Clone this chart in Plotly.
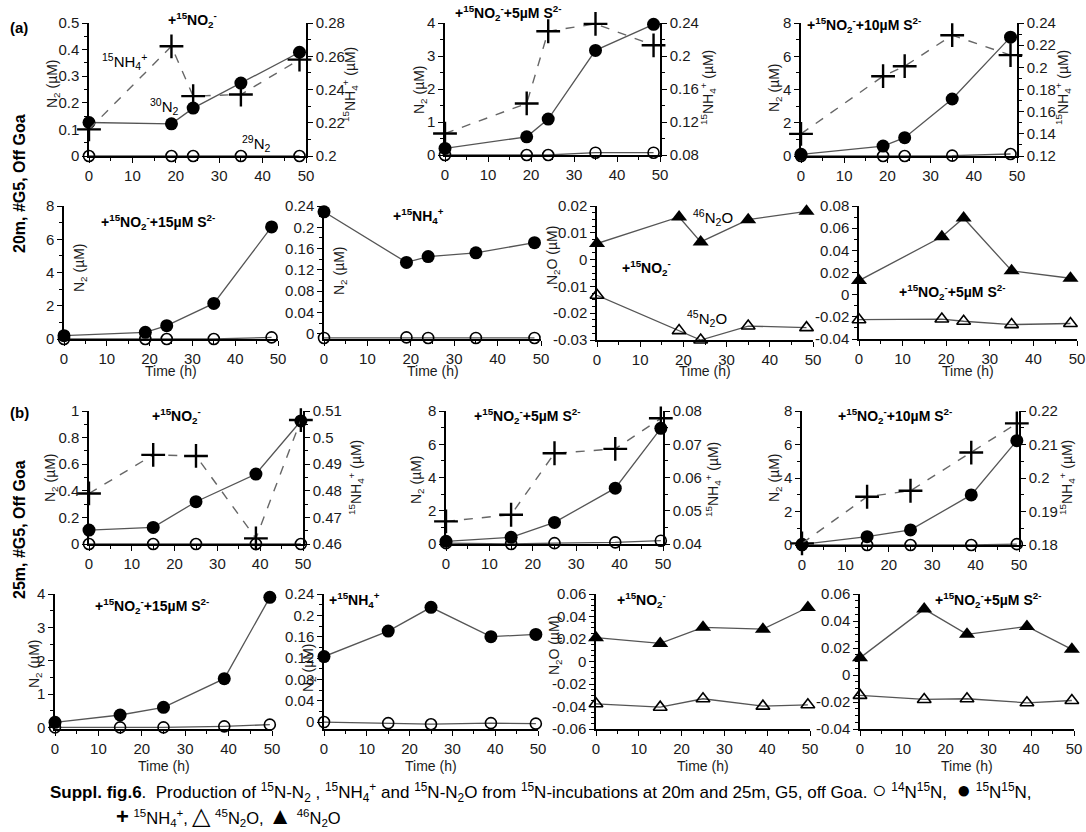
import numpy as np
import plotly.graph_objects as go

W, H = 1086, 832
FONT = "Liberation Sans, Arial, sans-serif"

# ---------------- data ----------------
t_a = [0, 19, 24, 35, 48.5]
t_b = [0, 15, 25, 39, 49.5]

# (a) 20 m
a_no2_15N15N = [0.126, 0.121, 0.18, 0.274, 0.39]
a_no2_14N15N = [0, 0, 0, 0, 0]
a_no2_NH4 = [0.216, 0.266, 0.236, 0.237, 0.258]
a_s5_15N15N = [0.2, 0.55, 1.09, 3.17, 3.96]
a_s5_14N15N = [0, 0, 0, 0.07, 0.07]
a_s5_NH4 = [0.106, 0.1425, 0.230, 0.239, 0.213]
a_s10_15N15N = [0.1, 0.6, 1.1, 3.43, 7.15]
a_s10_14N15N = [0, 0, 0, 0.02, 0.12]
a_s10_NH4 = [0.140, 0.192, 0.201, 0.229, 0.211]
a_s15_15N15N = [0.2, 0.4, 0.8, 2.14, 6.74]
a_s15_14N15N = [0, 0, 0, 0, 0.1]
a_nh4_15N15N = [0.229, 0.134, 0.145, 0.152, 0.171]
a_nh4_14N15N = [-0.008, -0.007, -0.008, -0.008, -0.008]
a_no2_46N2O = [0.006, 0.0159, 0.0066, 0.0149, 0.018]
a_no2_45N2O = [-0.0133, -0.0265, -0.030, -0.0248, -0.0254]
a_s5_46N2O = [0.0127, 0.0522, 0.0692, 0.0216, 0.0148]
a_s5_45N2O = [-0.0226, -0.022, -0.024, -0.027, -0.026]

# (b) 25 m
b_no2_15N15N = [0.105, 0.125, 0.318, 0.526, 0.925]
b_no2_14N15N = [0, 0, 0, 0, 0]
b_no2_NH4 = [0.479, 0.4935, 0.4931, 0.4621, 0.5066]
b_s5_15N15N = [0.16, 0.4, 1.3, 3.36, 6.96]
b_s5_14N15N = [0.05, 0.0, 0.05, 0.1, 0.2]
b_s5_NH4 = [0.0468, 0.0488, 0.0673, 0.0686, 0.0778]
b_s10_15N15N = [0.04, 0.5, 0.9, 2.99, 6.23]
b_s10_14N15N = [0, 0, 0, 0, 0.05]
b_s10_NH4 = [0.1805, 0.1944, 0.1962, 0.2076, 0.2163]
b_s15_15N15N = [0.15, 0.37, 0.6, 1.46, 3.90]
b_s15_14N15N = [0, 0, 0, 0.03, 0.08]
b_nh4_15N15N = [0.1228, 0.1705, 0.215, 0.16, 0.1643]
b_nh4_14N15N = [0, -0.002, -0.004, -0.002, -0.003]
b_no2_46N2O = [0.0212, 0.0161, 0.0304, 0.0287, 0.048]
b_no2_45N2O = [-0.0376, -0.0406, -0.0331, -0.0397, -0.0385]
b_s5_46N2O = [0.0127, 0.0488, 0.0301, 0.0359, 0.019]
b_s5_45N2O = [-0.0151, -0.0181, -0.0176, -0.0206, -0.0189]

x_ticks = [0, 10, 20, 30, 40, 50]

# ---------------- labels ----------------
T_NO2 = "+<sup>15</sup>NO<sub>2</sub><sup>-</sup>"
T_S5 = T_NO2 + "+5µM S<sup>2-</sup>"
T_S10 = T_NO2 + "+10µM S<sup>2-</sup>"
T_S15 = T_NO2 + "+15µM S<sup>2-</sup>"
T_NH4 = "+<sup>15</sup>NH<sub>4</sub><sup>+</sup>"
Y_N2 = "N<sub>2</sub> (µM)"
Y_N2O = "N<sub>2</sub>O (µM)"
Y_NH4 = "<sup>15</sup>NH<sub>4</sub><sup>+</sup> (µM)"

# panel specs: box = (x0, x1, ytop, ybottom) pixels
panels = [
    dict(box=(89, 306, 23, 156), t=t_a, yl=(0, 0.5), lt=[0, 0.1, 0.2, 0.3, 0.4, 0.5], lm=0.05,
         yr=(0.2, 0.28), rt=[0.2, 0.22, 0.24, 0.26, 0.28], rm=0.01,
         kind="N2", closed=a_no2_15N15N, open=a_no2_14N15N, plus=a_no2_NH4,
         title=T_NO2, tpos=(192, 20), ltit=(53, 84), rtit=(350, 85)),
    dict(box=(445, 660, 23, 155), t=t_a, yl=(0, 4), lt=[0, 1, 2, 3, 4], lm=0.5,
         yr=(0.08, 0.24), rt=[0.08, 0.12, 0.16, 0.2, 0.24], rm=0.02,
         kind="N2", closed=a_s5_15N15N, open=a_s5_14N15N, plus=a_s5_NH4,
         title=T_S5, tpos=(508, 13), ltit=(420, 90), rtit=(708, 88)),
    dict(box=(801, 1017, 23, 156), t=t_a, yl=(0, 8), lt=[0, 2, 4, 6, 8], lm=1,
         yr=(0.12, 0.24), rt=[0.12, 0.14, 0.16, 0.18, 0.2, 0.22, 0.24], rm=0.01,
         kind="N2", closed=a_s10_15N15N, open=a_s10_14N15N, plus=a_s10_NH4,
         title=T_S10, tpos=(864, 25), ltit=(775, 88), rtit=(1063, 88)),
    dict(box=(64, 278, 206, 339), t=t_a, yl=(0, 8), lt=[0, 2, 4, 6, 8], lm=1,
         kind="N2", closed=a_s15_15N15N, open=a_s15_14N15N,
         title=T_S15, tpos=(158, 222), ltit=(80, 268), xtit=True),
    dict(box=(324, 541, 206, 339), t=t_a, yl=(-0.01, 0.24), lt=[0, 0.04, 0.08, 0.12, 0.16, 0.2, 0.24], lm=0.02,
         kind="N2", closed=a_nh4_15N15N, open=a_nh4_14N15N,
         title=T_NH4, tpos=(418, 216), ltit=(340, 271), xtit=True),
    dict(box=(597, 813, 206, 340), t=t_a, yl=(-0.03, 0.02), lt=[-0.03, -0.02, -0.01, 0, 0.01, 0.02], lm=0.0025,
         kind="N2O", closed=a_no2_46N2O, open=a_no2_45N2O,
         title=T_NO2, tpos=(646, 268), ltit=(553, 256), xtit=True),
    dict(box=(859, 1077, 206, 339), t=t_a, yl=(-0.04, 0.08), lt=[-0.04, -0.02, 0, 0.02, 0.04, 0.06, 0.08], lm=0.01,
         kind="N2O", closed=a_s5_46N2O, open=a_s5_45N2O,
         title=T_S5, tpos=(952, 292), xtit=True),
    dict(box=(89, 303, 411, 544), t=t_b, yl=(0, 1), lt=[0, 0.2, 0.4, 0.6, 0.8, 1], lm=0.1,
         yr=(0.46, 0.51), rt=[0.46, 0.47, 0.48, 0.49, 0.5, 0.51], rm=0.005,
         kind="N2", closed=b_no2_15N15N, open=b_no2_14N15N, plus=b_no2_NH4,
         title=T_NO2, tpos=(176, 416), ltit=(51, 478), rtit=(356, 478)),
    dict(box=(446, 663, 411, 544), t=t_b, yl=(0, 8), lt=[0, 2, 4, 6, 8], lm=1,
         yr=(0.04, 0.08), rt=[0.04, 0.05, 0.06, 0.07, 0.08], rm=0.005,
         kind="N2", closed=b_s5_15N15N, open=b_s5_14N15N, plus=b_s5_NH4,
         title=T_S5, tpos=(527, 416), ltit=(417, 480), rtit=(713, 480)),
    dict(box=(802, 1019, 411, 545), t=t_b, yl=(0, 8), lt=[0, 2, 4, 6, 8], lm=1,
         yr=(0.18, 0.22), rt=[0.18, 0.19, 0.2, 0.21, 0.22], rm=0.005,
         kind="N2", closed=b_s10_15N15N, open=b_s10_14N15N, plus=b_s10_NH4,
         title=T_S10, tpos=(895, 416), ltit=(775, 478), rtit=(1067, 478)),
    dict(box=(55, 272, 594, 729), t=t_b, yl=(-0.05, 4), lt=[0, 1, 2, 3, 4], lm=0.5,
         kind="N2", closed=b_s15_15N15N, open=b_s15_14N15N,
         title=T_S15, tpos=(152, 606), ltit=(35, 664), xtit=True),
    dict(box=(324, 538, 594, 729), t=t_b, yl=(-0.013, 0.24), lt=[0, 0.04, 0.08, 0.12, 0.16, 0.2, 0.24], lm=0.02,
         kind="N2", closed=b_nh4_15N15N, open=b_nh4_14N15N,
         title=T_NH4, tpos=(354, 600), ltit=(309, 668), xtit=True),
    dict(box=(596, 810, 594, 729), t=t_b, yl=(-0.06, 0.06), lt=[-0.06, -0.04, -0.02, 0, 0.02, 0.04, 0.06], lm=0.005,
         kind="N2O", closed=b_no2_46N2O, open=b_no2_45N2O,
         title=T_NO2, tpos=(641, 600), ltit=(555, 646), xtit=True),
    dict(box=(860, 1074, 594, 729), t=t_b, yl=(-0.04, 0.06), lt=[-0.04, -0.02, 0, 0.02, 0.04, 0.06], lm=0.005,
         kind="N2O", closed=b_s5_46N2O, open=b_s5_45N2O,
         title=T_S5, tpos=(988, 600), xtit=True),
]


def fmt(v):
    return f"{v:g}"


def minor_vals(lo, hi, step):
    start = np.ceil(lo / step - 1e-9) * step
    vals = []
    v = start
    while v <= hi + 1e-12:
        vals.append(round(v, 6))
        v += step
    return vals


def ann(text, x, y, size=14, angle=0, xanchor="center", color="#1a1a1a"):
    return dict(x=x / W, y=1 - y / H, xref="paper", yref="paper", text=text, showarrow=False,
                xanchor=xanchor, yanchor="middle", textangle=angle,
                font=dict(family=FONT, size=size, color=color))


fig = go.Figure()
layout = dict(
    width=W, height=H, autosize=False,
    margin=dict(l=0, r=0, t=0, b=0, pad=0, autoexpand=False),
    paper_bgcolor="white", plot_bgcolor="rgba(0,0,0,0)", showlegend=False,
    font=dict(family=FONT, size=15, color="#1a1a1a"),
)
annotations = []

AX = dict(showgrid=False, zeroline=False, showline=True, linecolor="black", linewidth=1.5,
          ticks="outside", ticklen=5, tickwidth=1.2, tickcolor="black", automargin=False,
          tickfont=dict(family=FONT, size=15, color="#1a1a1a"))

LINE_C = "#555555"
nright = len(panels)

for i, p in enumerate(panels, start=1):
    x0, x1, yt, yb = p["box"]
    xd = [x0 / W, x1 / W]
    yd = [1 - yb / H, 1 - yt / H]
    xn, yn = f"xaxis{i}", f"yaxis{i}"
    xr, yr_ = f"x{i}", f"y{i}"
    layout[xn] = dict(AX, domain=xd, range=[0, 50], anchor=yr_,
                      tickmode="array", tickvals=x_ticks, ticktext=[fmt(v) for v in x_ticks],
                      minor=dict(tickmode="array", tickvals=minor_vals(0, 50, 5), ticks="outside",
                                 ticklen=3, tickcolor="black", tickwidth=1))
    lo, hi = p["yl"]
    layout[yn] = dict(AX, domain=yd, range=[lo, hi], anchor=xr,
                      tickmode="array", tickvals=p["lt"], ticktext=[fmt(v) for v in p["lt"]],
                      minor=dict(tickmode="array", tickvals=minor_vals(lo, hi, p["lm"]), ticks="outside",
                                 ticklen=3, tickcolor="black", tickwidth=1))
    t = p["t"]
    if p["kind"] == "N2":
        fig.add_trace(go.Scatter(x=t, y=p["open"], xaxis=xr, yaxis=yr_, mode="lines+markers",
                                 line=dict(color=LINE_C, width=1.3), cliponaxis=False,
                                 marker=dict(symbol="circle-open", size=11, color="black",
                                             line=dict(width=1.6, color="black"))))
        fig.add_trace(go.Scatter(x=t, y=p["closed"], xaxis=xr, yaxis=yr_, mode="lines+markers",
                                 line=dict(color=LINE_C, width=1.3), cliponaxis=False,
                                 marker=dict(symbol="circle", size=13, color="black")))
    else:
        fig.add_trace(go.Scatter(x=t, y=p["open"], xaxis=xr, yaxis=yr_, mode="lines+markers",
                                 line=dict(color=LINE_C, width=1.3), cliponaxis=False,
                                 marker=dict(symbol="triangle-up-open", size=12, color="black",
                                             line=dict(width=1.6, color="black"))))
        fig.add_trace(go.Scatter(x=t, y=p["closed"], xaxis=xr, yaxis=yr_, mode="lines+markers",
                                 line=dict(color=LINE_C, width=1.3), cliponaxis=False,
                                 marker=dict(symbol="triangle-up", size=14, color="black")))
    if "yr" in p:
        nright += 1
        rn, rr = f"yaxis{nright}", f"y{nright}"
        rlo, rhi = p["yr"]
        layout[rn] = dict(AX, domain=yd, range=[rlo, rhi], anchor=xr, overlaying=yr_, side="right",
                          tickmode="array", tickvals=p["rt"], ticktext=[fmt(v) for v in p["rt"]],
                          minor=dict(tickmode="array", tickvals=minor_vals(rlo, rhi, p["rm"]), ticks="outside",
                                     ticklen=3, tickcolor="black", tickwidth=1))
        fig.add_trace(go.Scatter(x=t, y=p["plus"], xaxis=xr, yaxis=rr, mode="lines+markers",
                                 line=dict(color="#666666", width=1.4, dash="dash"), cliponaxis=False,
                                 marker=dict(symbol="cross-thin", size=17, color="black",
                                             line=dict(width=2.4, color="black"))))
        annotations.append(ann(Y_NH4, p["rtit"][0], p["rtit"][1], angle=-90))
    annotations.append(ann("<b>" + p["title"] + "</b>", p["tpos"][0], p["tpos"][1], color="black"))
    if "ltit" in p:
        annotations.append(ann(Y_N2 if p["kind"] == "N2" else Y_N2O, p["ltit"][0], p["ltit"][1], angle=-90))
    if p.get("xtit"):
        ty = 371 if yb < 400 else 766
        annotations.append(ann("Time (h)", (x0 + x1) / 2, ty))

# inline labels
inline = [
    ("<sup>15</sup>NH<sub>4</sub><sup>+</sup>", 124, 62),
    ("<sup>30</sup>N<sub>2</sub>", 164, 107),
    ("<sup>29</sup>N<sub>2</sub>", 256, 143),
    ("<sup>46</sup>N<sub>2</sub>O", 713, 217),
    ("<sup>45</sup>N<sub>2</sub>O", 707, 318),
]
for txt, x, y in inline:
    annotations.append(ann(txt, x, y, size=15, color="black"))

# panel letters & row labels
annotations += [
    ann("<b>(a)</b>", 19, 27, size=15, color="black"),
    ann("<b>(b)</b>", 19, 412, size=15, color="black"),
    ann("<b>20m, #G5, Off Goa</b>", 19, 184, size=16, angle=-90, color="black"),
    ann("<b>25m, #G5, Off Goa</b>", 19, 530, size=16, angle=-90, color="black"),
]

# caption
G = '<span style="font-size:24px">{}</span>'
cap1 = ("<b>Suppl. fig.6</b>.  Production of <sup>15</sup>N-N<sub>2</sub> , <sup>15</sup>NH<sub>4</sub><sup>+</sup> "
        "and <sup>15</sup>N-N<sub>2</sub>O from <sup>15</sup>N-incubations at 20m and 25m, G5, off Goa. "
        + G.format("○") + " <sup>14</sup>N<sup>15</sup>N,  " + G.format("●") + " <sup>15</sup>N<sup>15</sup>N,")
cap2 = ('<b><span style="font-size:22px">+</span></b> <sup>15</sup>NH<sub>4</sub><sup>+</sup>, '
        + G.format("△") + " <sup>45</sup>N<sub>2</sub>O, " + G.format("▲") + " <sup>46</sup>N<sub>2</sub>O")
annotations += [
    ann(cap1, 48, 790, size=17, xanchor="left", color="black"),
    ann(cap2, 114, 815, size=16.5, xanchor="left", color="black"),
]

layout["annotations"] = annotations
fig.update_layout(**layout)
fig.write_html("out.html", config=dict(responsive=False, displayModeBar=False),
               post_script="document.body.style.margin='0px';document.body.style.padding='0px';")
